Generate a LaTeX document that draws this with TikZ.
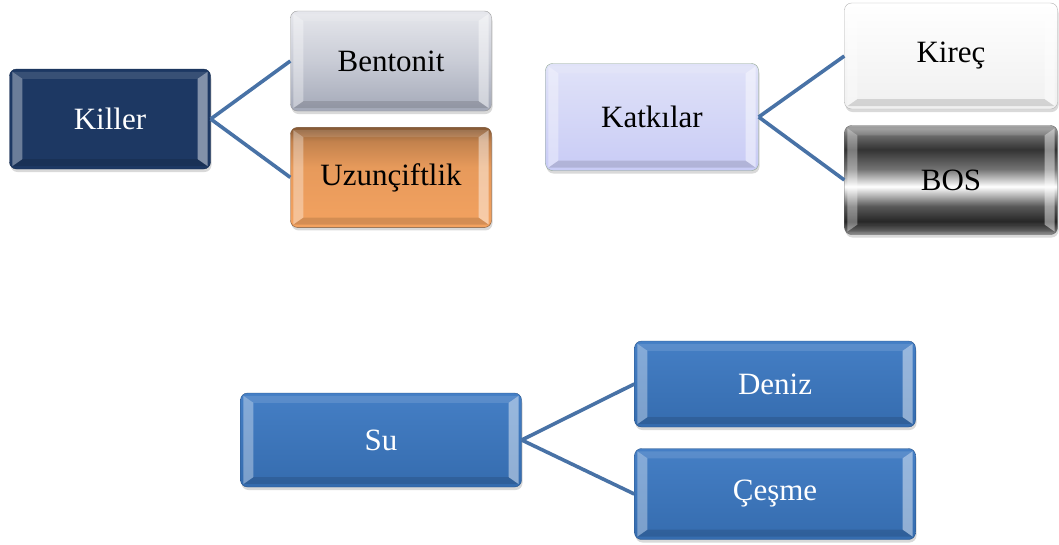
\documentclass[tikz,border=0pt]{standalone}
\usepackage{fontspec}
\setmainfont{Liberation Serif}
\usetikzlibrary{shapes, shadows, positioning}
\definecolor{lacivert}{HTML}{1D3863}
\definecolor{mavi}{HTML}{3B78C2}
\definecolor{baglanti}{HTML}{4872A6}
\definecolor{turuncu}{HTML}{F3A260}
\definecolor{lavanta}{HTML}{D3D6F5}
\definecolor{gumusust}{HTML}{E6E7EC}
\definecolor{gumusorta}{HTML}{C9CCD6}
\definecolor{gumusalt}{HTML}{A4A9B8}
\pgfdeclareverticalshading{gumus}{100bp}{color(0bp)=(gumusalt); color(25bp)=(gumusalt); color(50bp)=(gumusorta); color(75bp)=(gumusust); color(100bp)=(gumusust)}
\pgfdeclareverticalshading{portakal}{100bp}{color(0bp)=(turuncu); color(25bp)=(turuncu); color(55bp)=(turuncu!95!black); color(68bp)=(turuncu!80!black); color(75bp)=(turuncu!55!black); color(100bp)=(turuncu!55!black)}
\pgfdeclareverticalshading{metal}{100bp}{color(0bp)=(black!45); color(25bp)=(black!45); color(31bp)=(black!85); color(38bp)=(black!65); color(47bp)=(white); color(55bp)=(black!55); color(64bp)=(black!80); color(70bp)=(black!60); color(75bp)=(black!35); color(100bp)=(black!35)}
\newcommand{\kabartma}[1]{%
  \fill[white, opacity=.35] ([shift={(3,3)}]#1.north west) -- ([shift={(13,10)}]#1.north west) -- ([shift={(13,-10)}]#1.south west) -- ([shift={(3,-3)}]#1.south west) -- cycle;
  \fill[white, opacity=.45] ([shift={(-3,3)}]#1.north east) -- ([shift={(-13,10)}]#1.north east) -- ([shift={(-13,-10)}]#1.south east) -- ([shift={(-3,-3)}]#1.south east) -- cycle;
  \fill[white, opacity=.12] ([shift={(3,3)}]#1.north west) -- ([shift={(13,10)}]#1.north west) -- ([shift={(-13,10)}]#1.north east) -- ([shift={(-3,3)}]#1.north east) -- cycle;
  \fill[black, opacity=.12] ([shift={(3,-3)}]#1.south west) -- ([shift={(13,-10)}]#1.south west) -- ([shift={(-13,-10)}]#1.south east) -- ([shift={(-3,-3)}]#1.south east) -- cycle;
}
\tikzstyle{kutu} = [rectangle, rounded corners=7pt, minimum width=201pt, minimum height=100pt, inner sep=0pt, font=\fontsize{31}{36}\selectfont, drop shadow={opacity=.3, shadow xshift=1pt, shadow yshift=-3pt}]
\tikzstyle{koyu} = [kutu, text=white]
\tikzstyle{bag} = [draw=baglanti, line width=3.6pt]

\begin{document}
\begin{tikzpicture}[x=1pt, y=-1pt]
	\useasboundingbox (0,0) rectangle (1059,544);
	% Killer
	\node[koyu, fill=lacivert, draw=lacivert!80!black] (killer) at (110,119) {Killer};
	\node[kutu, shading=gumus, draw=black!40] (bentonit) at (391,61) {Bentonit};
	\node[kutu, shading=portakal, draw=turuncu!50!black, below=16pt of bentonit] (uzunciftlik) {Uzunçiftlik};
	% Katkilar
	\node[kutu, minimum width=213pt, minimum height=107pt, top color=lavanta!70!white, bottom color=lavanta!95!blue, draw=green!20!black!45] (katkilar) at (652,117) {Katkılar};
	\node[kutu, minimum width=213pt, minimum height=106pt, top color=white, bottom color=black!6, draw=black!30] (kirec) at (951,56) {Kireç};
	\node[kutu, minimum width=213pt, minimum height=109pt, shading=metal, draw=black!60] (bos) at (951,180) {BOS};
	% Su
	\node[koyu, minimum width=281pt, minimum height=94pt, top color=mavi!95!white, bottom color=mavi!90!black, draw=mavi!70!black] (su) at (381,440) {Su};
	\node[koyu, minimum width=281pt, minimum height=86pt, top color=mavi!95!white, bottom color=mavi!90!black, draw=mavi!70!black] (deniz) at (775,384) {Deniz};
	\node[koyu, minimum width=281pt, minimum height=91pt, top color=mavi!95!white, bottom color=mavi!90!black, draw=mavi!70!black] (cesme) at (775,494) {Çeşme};

	\foreach \k in {killer, bentonit, uzunciftlik, katkilar, kirec, bos, su, deniz, cesme}
		\kabartma{\k};

	\draw[bag] (killer.east) -- (bentonit.west);
	\draw[bag] (killer.east) -- (uzunciftlik.west);
	\draw[bag] (katkilar.east) -- (kirec.west);
	\draw[bag] (katkilar.east) -- (bos.west);
	\draw[bag] (su.east) -- (deniz.west);
	\draw[bag] (su.east) -- (cesme.west);
\end{tikzpicture}
\end{document}
